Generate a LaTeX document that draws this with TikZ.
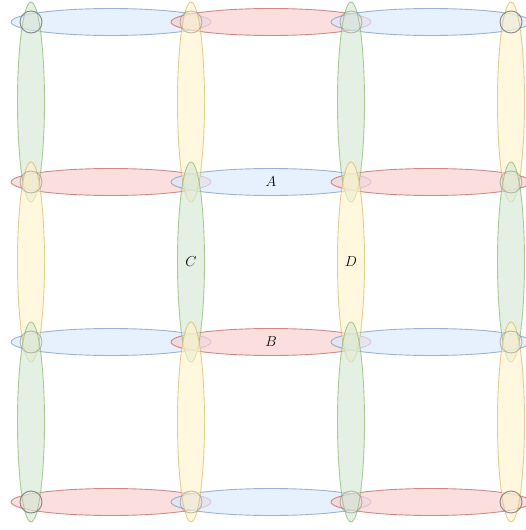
\documentclass[tikz,border=0pt]{standalone}
\usepackage{amsmath}
\usetikzlibrary{shapes.geometric}
\definecolor{linkblue}{HTML}{DAE8FC}
\definecolor{edgeblue}{HTML}{6C8EBF}
\definecolor{linkred}{HTML}{F8CECC}
\definecolor{edgered}{HTML}{B85450}
\definecolor{linkgreen}{HTML}{D5E8D4}
\definecolor{edgegreen}{HTML}{82B366}
\definecolor{linkyellow}{HTML}{FFF2CC}
\definecolor{edgeyellow}{HTML}{D6B656}
\definecolor{sitegray}{HTML}{666666}

\begin{document}
\begin{tikzpicture}[x=1pt, y=-1pt,
  link/.style={ellipse, draw, inner sep=0pt, line width=0.9pt, fill opacity=0.65, draw opacity=0.65, text opacity=1, font=\fontsize{15}{17}\selectfont},
  hlink/.style={link, minimum width=200pt, minimum height=27pt},
  vlink/.style={link, minimum width=27pt, minimum height=200pt},
  hb/.style={hlink, fill=linkblue, draw=edgeblue},
  hr/.style={hlink, fill=linkred, draw=edgered},
  vg/.style={vlink, fill=linkgreen, draw=edgegreen},
  vy/.style={vlink, fill=linkyellow, draw=edgeyellow},
  site/.style={circle, draw=sitegray, line width=0.9pt, draw opacity=0.4, fill=gray!25, fill opacity=0.1, minimum size=22pt, inner sep=0pt},
  cornersite/.style={site, draw opacity=0.75, fill opacity=0.15}
]
\useasboundingbox (0,0) rectangle (526,530);
\clip (0,0) rectangle (526,530);
% horizontal links
\foreach \r/\y/\a/\b in {0/22/hb/hr, 1/182/hr/hb, 2/342/hb/hr, 3/502/hr/hb} {
  \node[\a] (h-\r-0) at (111,\y) {};
  \node[\b] (h-\r-1) at (271,\y) {};
  \node[\a] (h-\r-2) at (431,\y) {};
}
% vertical links
\foreach \c/\x/\a/\b in {0/31/vg/vy, 1/191/vy/vg, 2/351/vg/vy, 3/511/vy/vg} {
  \node[\a] (v-\c-0) at (\x,102) {};
  \node[\b] (v-\c-1) at (\x,262) {};
  \node[\a] (v-\c-2) at (\x,422) {};
}
% labels
\node[font=\fontsize{15}{17}\selectfont] (lblA) at (h-1-1) {$A$};
\node[font=\fontsize{15}{17}\selectfont] (lblB) at (h-2-1) {$B$};
\node[font=\fontsize{15}{17}\selectfont] (lblC) at (v-1-1) {$C$};
\node[font=\fontsize{15}{17}\selectfont] (lblD) at (v-2-1) {$D$};
% edge sites
\foreach \x/\y [count=\i] in {191/22, 351/22, 31/182, 511/182, 31/342, 511/342, 191/502, 351/502}
  \node[site] (s-\i) at (\x,\y) {};
% corner sites
\foreach \x/\y [count=\i] in {31/22, 511/22, 31/502, 511/502}
  \node[cornersite] (c-\i) at (\x,\y) {};
\end{tikzpicture}
\end{document}
